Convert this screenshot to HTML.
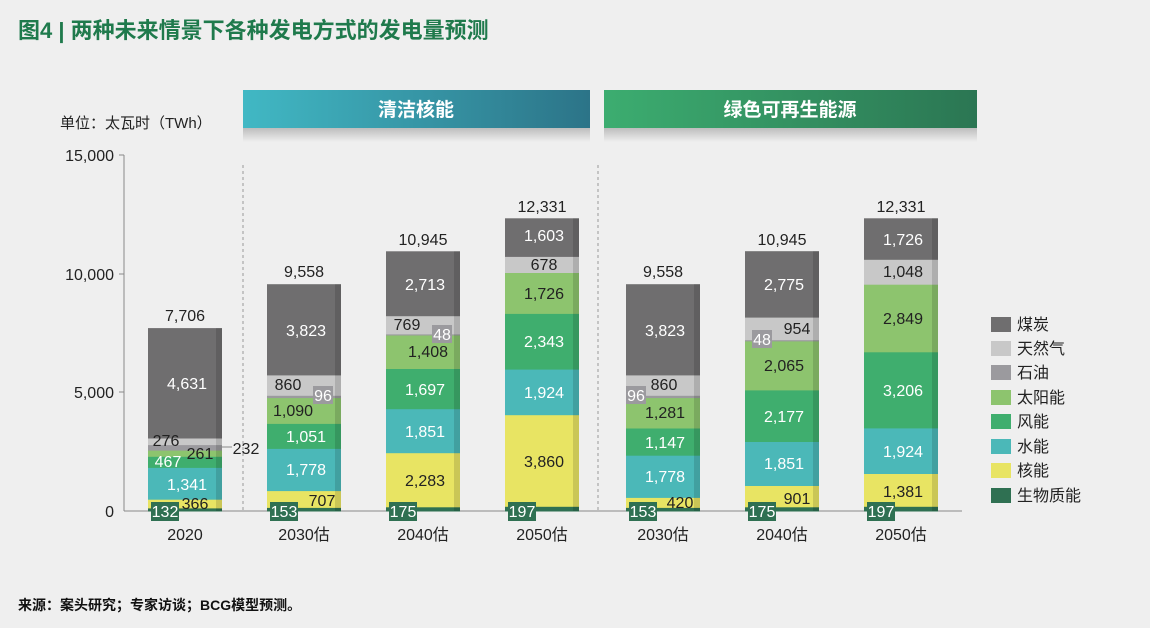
<!DOCTYPE html>
<html><head><meta charset="utf-8"><style>
body{margin:0;background:#efefef;}
svg{display:block;font-family:"Liberation Sans","Noto Sans CJK SC",sans-serif;}
</style></head><body>
<svg width="1150" height="628" viewBox="0 0 1150 628" xmlns="http://www.w3.org/2000/svg">
<defs>
<linearGradient id="gb" x1="0" x2="1"><stop offset="0" stop-color="#41b8c4"/><stop offset="1" stop-color="#2c7488"/></linearGradient>
<linearGradient id="gg" x1="0" x2="1"><stop offset="0" stop-color="#3cad70"/><stop offset="1" stop-color="#2b7653"/></linearGradient>
<linearGradient id="sh" x1="0" y1="0" x2="0" y2="1"><stop offset="0" stop-color="#bdbdbd"/><stop offset="1" stop-color="#efefef"/></linearGradient>
</defs>
<rect width="1150" height="628" fill="#efefef"/>
<text x="18" y="38" font-size="22" font-weight="bold" fill="#1f7a4c">图4 | 两种未来情景下各种发电方式的发电量预测</text>

<rect x="243" y="128" width="347" height="14" fill="url(#sh)"/>
<rect x="243" y="90" width="347" height="38" fill="url(#gb)"/>
<text x="416" y="116" font-size="19" font-weight="bold" fill="#fff" text-anchor="middle">清洁核能</text>
<rect x="604" y="128" width="373" height="14" fill="url(#sh)"/>
<rect x="604" y="90" width="373" height="38" fill="url(#gg)"/>
<text x="790" y="116" font-size="19" font-weight="bold" fill="#fff" text-anchor="middle">绿色可再生能源</text>

<text x="60" y="128" font-size="15" fill="#222">单位：太瓦时（TWh）</text>

<g stroke="#888" stroke-width="1">
<line x1="124" y1="155" x2="124" y2="511"/>
<line x1="119" y1="155" x2="124" y2="155"/>
<line x1="119" y1="274" x2="124" y2="274"/>
<line x1="119" y1="392" x2="124" y2="392"/>
<line x1="124" y1="511" x2="962" y2="511"/>
</g>
<g stroke="#999" stroke-width="1" stroke-dasharray="3,3">
<line x1="243" y1="165" x2="243" y2="511"/>
<line x1="598" y1="165" x2="598" y2="511"/>
</g>
<g font-size="16" fill="#222" text-anchor="end">
<text x="114" y="161">15,000</text><text x="114" y="280">10,000</text><text x="114" y="398">5,000</text><text x="114" y="517">0</text>
</g>
<g font-size="16" fill="#222" text-anchor="middle">
<text x="185" y="540">2020</text><text x="304" y="540">2030估</text><text x="423" y="540">2040估</text><text x="542" y="540">2050估</text>
<text x="663" y="540">2030估</text><text x="782" y="540">2040估</text><text x="901" y="540">2050估</text>
</g>

<g>
<rect x="148" y="507.9" width="74" height="3.6" fill="#2f7052"/>
<rect x="148" y="499.2" width="74" height="9.2" fill="#e8e463"/>
<rect x="148" y="467.4" width="74" height="32.3" fill="#4bb8b8"/>
<rect x="148" y="456.3" width="74" height="11.6" fill="#3fae6e"/>
<rect x="148" y="450.1" width="74" height="6.7" fill="#8dc46e"/>
<rect x="148" y="444.6" width="74" height="6" fill="#9b9a9e"/>
<rect x="148" y="438" width="74" height="7.1" fill="#c8c8c8"/>
<rect x="148" y="328.1" width="74" height="110.4" fill="#6f6e6f"/>
<rect x="267" y="507.4" width="74" height="4.1" fill="#2f7052"/>
<rect x="267" y="490.6" width="74" height="17.3" fill="#e8e463"/>
<rect x="267" y="448.4" width="74" height="42.7" fill="#4bb8b8"/>
<rect x="267" y="423.4" width="74" height="25.5" fill="#3fae6e"/>
<rect x="267" y="397.6" width="74" height="26.3" fill="#8dc46e"/>
<rect x="267" y="395.3" width="74" height="2.8" fill="#9b9a9e"/>
<rect x="267" y="374.9" width="74" height="20.9" fill="#c8c8c8"/>
<rect x="267" y="284.2" width="74" height="91.2" fill="#6f6e6f"/>
<rect x="386" y="506.8" width="74" height="4.7" fill="#2f7052"/>
<rect x="386" y="452.7" width="74" height="54.6" fill="#e8e463"/>
<rect x="386" y="408.7" width="74" height="44.5" fill="#4bb8b8"/>
<rect x="386" y="368.5" width="74" height="40.7" fill="#3fae6e"/>
<rect x="386" y="335" width="74" height="34" fill="#8dc46e"/>
<rect x="386" y="333.9" width="74" height="1.6" fill="#9b9a9e"/>
<rect x="386" y="315.7" width="74" height="18.7" fill="#c8c8c8"/>
<rect x="386" y="251.3" width="74" height="64.9" fill="#6f6e6f"/>
<rect x="505" y="506.3" width="74" height="5.2" fill="#2f7052"/>
<rect x="505" y="414.7" width="74" height="92.1" fill="#e8e463"/>
<rect x="505" y="369.1" width="74" height="46.1" fill="#4bb8b8"/>
<rect x="505" y="313.4" width="74" height="56.2" fill="#3fae6e"/>
<rect x="505" y="272.5" width="74" height="41.4" fill="#8dc46e"/>
<rect x="505" y="256.4" width="74" height="16.6" fill="#c8c8c8"/>
<rect x="505" y="218.3" width="74" height="38.6" fill="#6f6e6f"/>
<rect x="626" y="507.4" width="74" height="4.1" fill="#2f7052"/>
<rect x="626" y="497.4" width="74" height="10.5" fill="#e8e463"/>
<rect x="626" y="455.2" width="74" height="42.7" fill="#4bb8b8"/>
<rect x="626" y="428" width="74" height="27.7" fill="#3fae6e"/>
<rect x="626" y="397.6" width="74" height="30.9" fill="#8dc46e"/>
<rect x="626" y="395.3" width="74" height="2.8" fill="#9b9a9e"/>
<rect x="626" y="374.9" width="74" height="20.9" fill="#c8c8c8"/>
<rect x="626" y="284.2" width="74" height="91.2" fill="#6f6e6f"/>
<rect x="745" y="506.8" width="74" height="4.7" fill="#2f7052"/>
<rect x="745" y="485.5" width="74" height="21.8" fill="#e8e463"/>
<rect x="745" y="441.5" width="74" height="44.5" fill="#4bb8b8"/>
<rect x="745" y="389.9" width="74" height="52.1" fill="#3fae6e"/>
<rect x="745" y="340.9" width="74" height="49.5" fill="#8dc46e"/>
<rect x="745" y="339.7" width="74" height="1.7" fill="#9b9a9e"/>
<rect x="745" y="317.1" width="74" height="23.1" fill="#c8c8c8"/>
<rect x="745" y="251.2" width="74" height="66.4" fill="#6f6e6f"/>
<rect x="864" y="506.3" width="74" height="5.2" fill="#2f7052"/>
<rect x="864" y="473.5" width="74" height="33.3" fill="#e8e463"/>
<rect x="864" y="427.9" width="74" height="46.1" fill="#4bb8b8"/>
<rect x="864" y="351.8" width="74" height="76.6" fill="#3fae6e"/>
<rect x="864" y="284.2" width="74" height="68.1" fill="#8dc46e"/>
<rect x="864" y="259.3" width="74" height="25.4" fill="#c8c8c8"/>
<rect x="864" y="218.3" width="74" height="41.5" fill="#6f6e6f"/>
</g>
<g fill="#000" opacity="0.13">
<rect x="216" y="328.1" width="6" height="182.9"/>
<rect x="335" y="284.2" width="6" height="226.8"/>
<rect x="454" y="251.3" width="6" height="259.7"/>
<rect x="573" y="218.3" width="6" height="292.7"/>
<rect x="694" y="284.2" width="6" height="226.8"/>
<rect x="813" y="251.2" width="6" height="259.8"/>
<rect x="932" y="218.3" width="6" height="292.7"/>
</g>

<g font-size="16" fill="#222" text-anchor="middle">
<text x="185" y="321">7,706</text><text x="304" y="277">9,558</text><text x="423" y="245">10,945</text><text x="542" y="212">12,331</text>
<text x="663" y="277">9,558</text><text x="782" y="245">10,945</text><text x="901" y="212">12,331</text>
</g>

<g fill="#2f7052">
<rect x="151" y="502" width="28" height="19"/><rect x="270" y="502" width="28" height="19"/><rect x="389" y="502" width="28" height="19"/><rect x="508" y="502" width="28" height="19"/>
<rect x="629" y="502" width="28" height="19"/><rect x="748" y="502" width="28" height="19"/><rect x="867" y="502" width="28" height="19"/>
</g>
<g fill="#9b9a9e">
<rect x="313" y="386" width="20" height="18"/><rect x="432" y="325" width="20" height="18"/>
<rect x="626" y="386" width="20" height="18"/><rect x="752" y="330" width="20" height="18"/>
</g>

<g font-size="16" text-anchor="middle">
<g fill="#fff">
<text x="165" y="517">132</text><text x="284" y="517">153</text><text x="403" y="517">175</text><text x="522" y="517">197</text>
<text x="643" y="517">153</text><text x="762" y="517">175</text><text x="881" y="517">197</text>
<text x="323" y="401">96</text><text x="442" y="340">48</text><text x="636" y="401">96</text><text x="762" y="345">48</text>
<text x="187" y="389">4,631</text><text x="306" y="336">3,823</text><text x="425" y="290">2,713</text><text x="544" y="241">1,603</text>
<text x="665" y="336">3,823</text><text x="784" y="290">2,775</text><text x="903" y="245">1,726</text>
<text x="187" y="490">1,341</text><text x="306" y="475">1,778</text><text x="425" y="437">1,851</text><text x="544" y="398">1,924</text>
<text x="665" y="482">1,778</text><text x="784" y="469">1,851</text><text x="903" y="457">1,924</text>
<text x="168" y="467">467</text><text x="306" y="442">1,051</text><text x="425" y="395">1,697</text><text x="544" y="347">2,343</text>
<text x="665" y="448">1,147</text><text x="784" y="422">2,177</text><text x="903" y="396">3,206</text>
</g>
<g fill="#222">
<text x="200" y="459">261</text><text x="293" y="416">1,090</text><text x="428" y="357">1,408</text><text x="544" y="299">1,726</text>
<text x="665" y="418">1,281</text><text x="784" y="371">2,065</text><text x="903" y="324">2,849</text>
<text x="166" y="446">276</text><text x="288" y="390">860</text><text x="407" y="330">769</text><text x="544" y="270">678</text>
<text x="664" y="390">860</text><text x="797" y="334">954</text><text x="903" y="277">1,048</text>
<text x="195" y="509">366</text><text x="322" y="506">707</text><text x="425" y="486">2,283</text><text x="544" y="467">3,860</text>
<text x="680" y="508">420</text><text x="797" y="504">901</text><text x="903" y="497">1,381</text>
<text x="246" y="454">232</text>
</g>
</g>
<line x1="222" y1="447" x2="232" y2="447" stroke="#888"/>

<g font-size="16" fill="#222">
<rect x="991" y="317" width="20" height="15" fill="#6f6e6f"/><text x="1017" y="330">煤炭</text>
<rect x="991" y="341" width="20" height="15" fill="#c8c8c8"/><text x="1017" y="354">天然气</text>
<rect x="991" y="365" width="20" height="15" fill="#9b9a9e"/><text x="1017" y="378">石油</text>
<rect x="991" y="390" width="20" height="15" fill="#8dc46e"/><text x="1017" y="403">太阳能</text>
<rect x="991" y="414" width="20" height="15" fill="#3fae6e"/><text x="1017" y="427">风能</text>
<rect x="991" y="439" width="20" height="15" fill="#4bb8b8"/><text x="1017" y="452">水能</text>
<rect x="991" y="463" width="20" height="15" fill="#e8e463"/><text x="1017" y="476">核能</text>
<rect x="991" y="488" width="20" height="15" fill="#2f7052"/><text x="1017" y="501">生物质能</text>
</g>

<text x="18" y="610" font-size="14" font-weight="bold" fill="#111">来源：案头研究；专家访谈；BCG模型预测。</text>
</svg>
</body></html>
